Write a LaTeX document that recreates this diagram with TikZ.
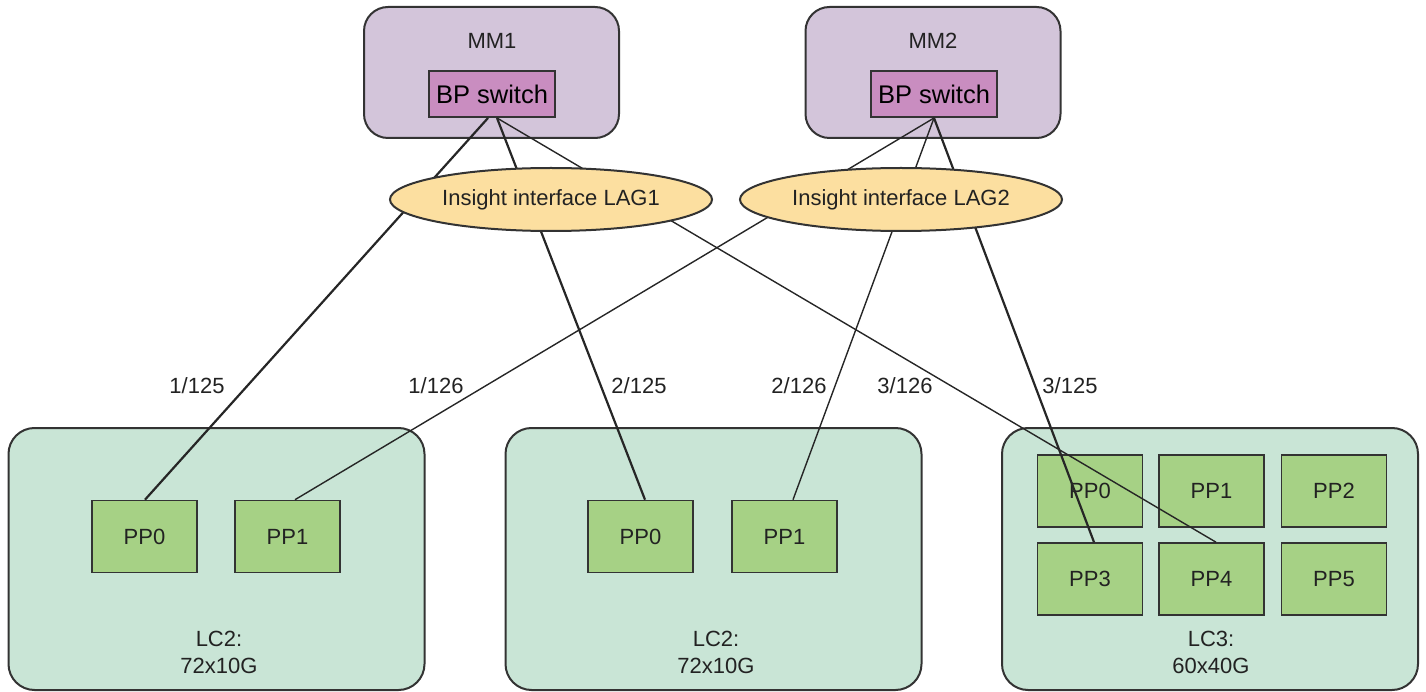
\documentclass[tikz,border=0pt]{standalone}
\usepackage{fontspec}
\setmainfont{Liberation Sans}
\usetikzlibrary{shapes.geometric}
\definecolor{mmfill}{HTML}{D3C5DA}
\definecolor{bpfill}{HTML}{C98DC0}
\definecolor{lagfill}{HTML}{FCDFA0}
\definecolor{lcfill}{HTML}{C9E5D6}
\definecolor{ppfill}{HTML}{A6D185}
\definecolor{bordercol}{HTML}{333333}
\definecolor{txtcol}{HTML}{222222}
\begin{document}
\begin{tikzpicture}[x=1pt,y=-1pt,
  every node/.style={text=txtcol, font=\fontsize{22}{27}\selectfont},
  mmbox/.style={draw=bordercol, fill=mmfill, line width=2pt, rounded corners=24pt, minimum width=255pt, minimum height=131pt, inner sep=0pt},
  bpbox/.style={draw=bordercol, fill=bpfill, line width=2pt, minimum width=126pt, minimum height=46pt, inner sep=0pt, font=\fontsize{25.5}{30}\selectfont, text=black},
  lagell/.style={ellipse, draw=bordercol, fill=lagfill, line width=2pt, minimum width=322pt, minimum height=63pt, inner sep=0pt},
  lcbox/.style={draw=bordercol, fill=lcfill, line width=2pt, rounded corners=26pt, minimum width=416pt, minimum height=262pt, inner sep=0pt},
  ppbox/.style={draw=bordercol, fill=ppfill, line width=1.6pt, minimum width=105pt, minimum height=72pt, inner sep=0pt},
  thickln/.style={draw=black!85, line width=2.2pt},
  thinln/.style={draw=black!85, line width=1.4pt},
  lbl/.style={inner sep=0pt},
  lctxt/.style={align=center, inner sep=0pt}
]
\useasboundingbox (0,0) rectangle (1426,692);

% management modules
\node[mmbox] (mm1) at (491.5,72.5) {};
\node[mmbox] (mm2) at (933,72.5) {};
\node[lbl] (mm1t) at (492,41) {MM1};
\node[lbl] (mm2t) at (933,41) {MM2};
\node[bpbox] (bp1) at (492,94) {BP switch};
\node[bpbox] (bp2) at (934,94) {BP switch};

% line cards
\node[lcbox] (lcA) at (216.5,559) {};
\node[lcbox] (lcB) at (713.5,559) {};
\node[lcbox] (lcC) at (1210,559) {};
\node[lctxt] (lcAt) at (219,652) {LC2:\\72x10G};
\node[lctxt] (lcBt) at (716,652) {LC2:\\72x10G};
\node[lctxt] (lcCt) at (1211,652) {LC3:\\60x40G};

% packet processors
\node[ppbox] (aPP0) at (144.5,536.5) {PP0};
\node[ppbox] (aPP1) at (287.5,536.5) {PP1};
\node[ppbox] (bPP0) at (640.5,536.5) {PP0};
\node[ppbox] (bPP1) at (784.5,536.5) {PP1};
\node[ppbox] (cPP0) at (1090,491) {PP0};
\node[ppbox] (cPP1) at (1211.5,491) {PP1};
\node[ppbox] (cPP2) at (1334,491) {PP2};
\node[ppbox] (cPP3) at (1090,579) {PP3};
\node[ppbox] (cPP4) at (1211.5,579) {PP4};
\node[ppbox] (cPP5) at (1334,579) {PP5};

% links
\draw[thickln] ([xshift=-4pt]bp1.south) -- ([xshift=0.5pt]aPP0.north);
\draw[thickln] ([xshift=5pt]bp1.south) -- ([xshift=4.5pt]bPP0.north);
\draw[thinln] ([xshift=5pt]bp1.south) -- ([xshift=4.5pt]cPP4.north);
\draw[thinln] (bp2.south) -- ([xshift=7.5pt]aPP1.north);
\draw[thinln] (bp2.south) -- ([xshift=8.5pt]bPP1.north);
\draw[thickln] (bp2.south) -- ([xshift=4pt]cPP3.north);

% LAG ellipses
\node[lagell] (lag1) at (551,199.5) {Insight interface LAG1};
\node[lagell] (lag2) at (901,199.5) {Insight interface LAG2};

% port labels
\node[lbl] (l1) at (197,386) {1/125};
\node[lbl] (l2) at (436,386) {1/126};
\node[lbl] (l3) at (639,386) {2/125};
\node[lbl] (l4) at (799,386) {2/126};
\node[lbl] (l5) at (905,386) {3/126};
\node[lbl] (l6) at (1070,386) {3/125};
\end{tikzpicture}
\end{document}
